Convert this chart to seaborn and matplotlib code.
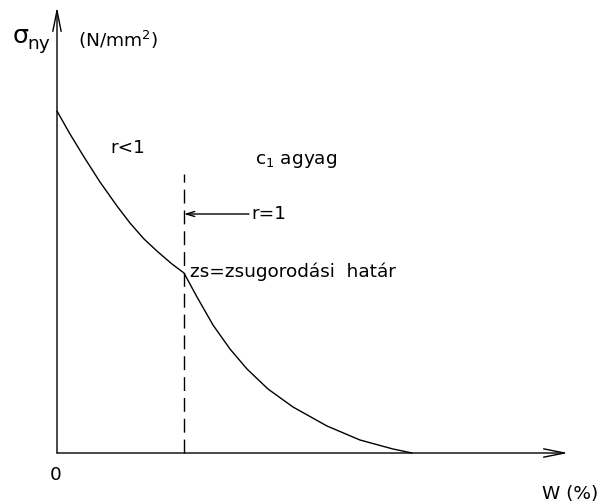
import matplotlib
matplotlib.use("Agg")
import matplotlib.pyplot as plt
import seaborn as sns
import pandas as pd

# Moisture content W (relative units) and shrinkage stress sigma_ny (relative units)
w_values = [0.0, 3.66, 7.61, 12.11, 16.90, 20.56, 24.51, 28.45, 32.39, 35.77,
            39.44, 43.94, 48.73, 53.52, 59.44, 66.48, 76.06, 85.35, 94.65, 100.0]
sigma_values = [100.0, 93.27, 86.55, 79.24, 72.22, 67.25, 62.57, 58.77, 55.26, 52.63,
                45.61, 37.43, 30.41, 24.56, 18.71, 13.45, 7.89, 3.80, 1.17, 0.0]
shrinkage_limit_w = 35.77

labels = {
    "origin": "0",
    "x_axis": "W (%)",
    "sigma": "σ",
    "sigma_sub": "ny",
    "unit": "(N/mm$^{2}$)",
    "r_lt": "r<1",
    "clay": "c$_{1}$ agyag",
    "r_eq": "r=1",
    "limit": "zs=zsugorodási  határ",
}

sns.set_style("white")
plt.rcParams["font.family"] = ["DejaVu Sans"]
plt.rcParams["mathtext.fontset"] = "dejavusans"
plt.rcParams["text.color"] = "black"

fig = plt.figure(figsize=(6.02, 5.02), dpi=100)
ax = fig.add_axes([0, 0, 1, 1])
ax.set_axis_off()

# scale: 3.55 px per W unit, 3.42 px per sigma unit, origin at (57, 454) px
SX, SY, X0, Y0 = 3.55, 3.42, 57, 454
ax.set_xlim(-X0 / SX, (602 - X0) / SX)
ax.set_ylim(-(502 - Y0) / SY, Y0 / SY)


def px(x, y):
    return (x - X0) / SX, (Y0 - y) / SY


df = pd.DataFrame({"W": w_values, "sigma": sigma_values})
sns.lineplot(data=df, x="W", y="sigma", ax=ax, color="black", lw=1.0,
             sort=False, estimator=None)

arrow = dict(arrowstyle="->,head_length=1.5,head_width=0.3", color="black",
             lw=1.0, shrinkA=0, shrinkB=0)
ax.annotate("", xy=px(568, Y0), xytext=(0, 0), arrowprops=arrow)
ax.annotate("", xy=px(X0, 8), xytext=(0, 0), arrowprops=arrow)

# shrinkage limit marker
ax.plot([shrinkage_limit_w, shrinkage_limit_w], [0, px(0, 175)[1]], color="black",
        lw=1.0, linestyle=(0, (10, 5)))

arrow_y = px(0, 215)[1]
ax.annotate("", xy=(shrinkage_limit_w, arrow_y), xytext=(px(249, 0)[0], arrow_y),
            arrowprops=dict(arrowstyle="->,head_length=0.6,head_width=0.18",
                            color="black", lw=1.0, shrinkA=0, shrinkB=0))

fs = 13.3
ax.text(*px(56, 475), labels["origin"], fontsize=fs, ha="center", va="center")
ax.text(*px(598, 494), labels["x_axis"], fontsize=fs, ha="right", va="center")
ax.text(*px(21, 36), labels["sigma"], fontsize=fs + 5, ha="center", va="center")
ax.text(*px(39, 44), labels["sigma_sub"], fontsize=fs, ha="center", va="center")
ax.text(*px(118, 40), labels["unit"], fontsize=fs, ha="center", va="center")
ax.text(*px(128, 148), labels["r_lt"], fontsize=fs, ha="center", va="center")
ax.text(*px(296, 161), labels["clay"], fontsize=fs, ha="center", va="center")
ax.text(*px(251, 214), labels["r_eq"], fontsize=fs, ha="left", va="center")
ax.text(*px(190, 272), labels["limit"], fontsize=fs, ha="left", va="center")

fig.savefig("out.png", dpi=100, facecolor="white")
